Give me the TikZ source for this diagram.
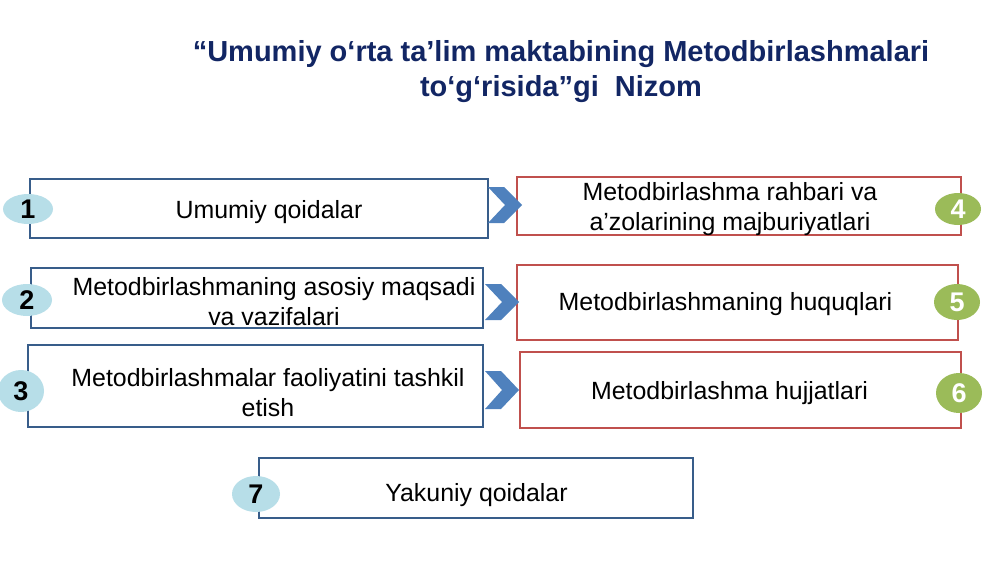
\documentclass[tikz,border=0pt]{standalone}
\usepackage{fontspec}
\setmainfont{Liberation Sans}
\usetikzlibrary{positioning}
\usetikzlibrary{shapes.geometric}

\definecolor{titleblue}{RGB}{18,38,100}
\definecolor{boxblue}{RGB}{56,93,138}
\definecolor{boxred}{RGB}{192,80,77}
\definecolor{chevblue}{RGB}{79,129,189}
\definecolor{numblue}{RGB}{183,222,232}
\definecolor{numgreen}{RGB}{155,187,89}

\tikzset{
  leftbox/.style={draw=boxblue, line width=1.3pt, fill=white, inner sep=0pt},
  rightbox/.style={draw=boxred, line width=1.1pt, fill=white, inner sep=0pt},
  boxtext/.style={align=center, font=\fontsize{24.9}{30}\selectfont},
  numb/.style={ellipse, fill=numblue, inner sep=0pt, font=\fontsize{27}{27}\selectfont\bfseries},
  numg/.style={ellipse, fill=numgreen, inner sep=0pt, text=white, font=\fontsize{27}{27}\selectfont\bfseries},
  chev/.style={fill=chevblue}
}

\begin{document}
\begin{tikzpicture}[x=1pt, y=-1pt]
\useasboundingbox (0,0) rectangle (1000,562);

% title
\node[align=center, text=titleblue, font=\fontsize{29}{35}\selectfont\bfseries] (title) at (561,72)
  {“Umumiy o‘rta ta’lim maktabining Metodbirlashmalari\\to‘g‘risida”gi\ \ Nizom};

% left column
\node[leftbox, minimum width=458, minimum height=59] (b1) at (259,208.5) {};
\node[leftbox, minimum width=452, minimum height=60] (b2) at (257,298) {};
\node[leftbox, minimum width=455, minimum height=82] (b3) at (255.5,386) {};

\node[boxtext] (t1) at (269,212) {Umumiy qoidalar};
\node[boxtext] (t2) at (274,302) {Metodbirlashmaning asosiy maqsadi\\va vazifalari};
\node[boxtext] (t3) at (268,393) {Metodbirlashmalar faoliyatini tashkil\\etish};

% right column
\node[rightbox, minimum width=444, minimum height=58] (b4) at (739,206) {};
\node[rightbox, minimum width=441, minimum height=75] (b5) at (737.5,302.5) {};
\node[rightbox, minimum width=441, minimum height=76] (b6) at (740.5,390) {};

\node[boxtext] (t4) at (730,209) {Metodbirlashma rahbari va\\a’zolarining majburiyatlari};
\node[boxtext] (t5) at (725.5,304) {Metodbirlashmaning huquqlari};
\node[boxtext] (t6) at (729.5,393) {Metodbirlashma hujjatlari};

% last box
\node[leftbox, minimum width=434, minimum height=60] (b7) at (476,488) {};
\node[boxtext] (t7) at (476.5,495) {Yakuniy qoidalar};

% chevrons
\fill[chev] (488,187) -- (504,187) -- (522,205) -- (504,223) -- (488,223) -- (505,205) -- cycle;
\fill[chev] (485,284) -- (501,284) -- (519,302) -- (501,320) -- (485,320) -- (502,302) -- cycle;
\fill[chev] (485,371) -- (501,371) -- (519,390) -- (501,409) -- (485,409) -- (502,390) -- cycle;

% numbers
\node[numb, minimum width=50, minimum height=30] (n1) at (28,209) {1};
\node[numb, minimum width=50, minimum height=32] (n2) at (27,300) {2};
\node[numb, minimum width=46, minimum height=42] (n3) at (21,391) {3};
\node[numg, minimum width=46, minimum height=32] (n4) at (958,209) {4};
\node[numg, minimum width=46, minimum height=36] (n5) at (957,302) {5};
\node[numg, minimum width=46, minimum height=40] (n6) at (959,393) {6};
\node[numb, minimum width=48, minimum height=36] (n7) at (256,494) {7};

\end{tikzpicture}
\end{document}
